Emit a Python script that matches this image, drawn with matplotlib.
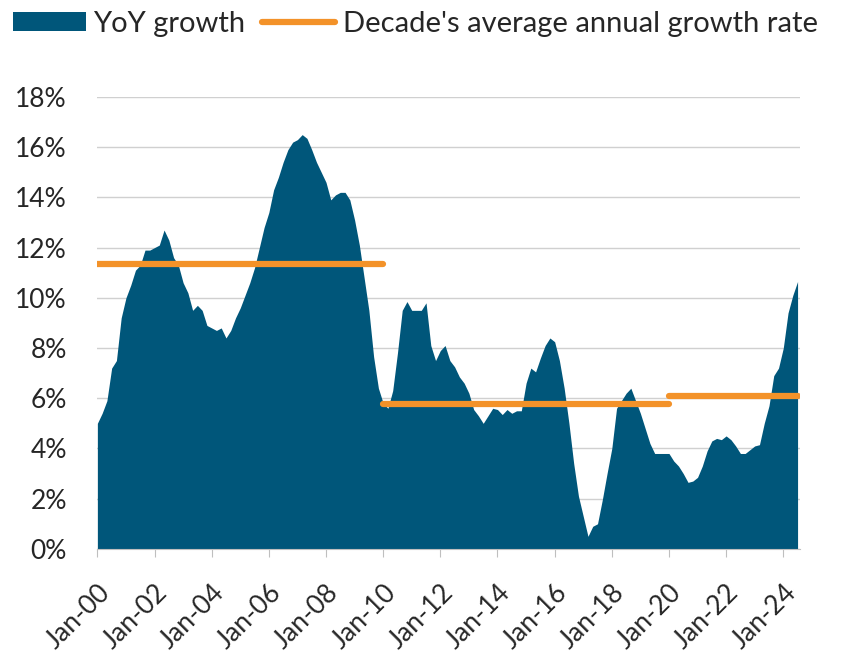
import numpy as np
import pandas as pd
import matplotlib
matplotlib.use("Agg")
import matplotlib.pyplot as plt
import matplotlib.transforms as mtransforms
from matplotlib.patches import Patch
from matplotlib.lines import Line2D

plt.rcParams['font.family'] = ['Lato', 'DejaVu Sans']

# YoY growth (%), one reading every two months, Jan-00 .. Jul-24
growth_2000s = [5.0, 5.4, 5.9, 7.2, 7.5, 9.2,
                10.0, 10.5, 11.1, 11.3, 11.9, 11.9,
                12.0, 12.1, 12.7, 12.3, 11.6, 11.3,
                10.6, 10.2, 9.5, 9.7, 9.5, 8.9,
                8.8, 8.7, 8.8, 8.4, 8.7, 9.2,
                9.6, 10.1, 10.6, 11.2, 12.0, 12.8,
                13.4, 14.3, 14.8, 15.4, 15.9, 16.2,
                16.3, 16.5, 16.35, 15.9, 15.4, 15.0,
                14.6, 13.9, 14.1, 14.2, 14.2, 13.9,
                13.1, 12.1, 10.8, 9.5, 7.65, 6.4]
growth_2010s = [5.8, 5.6, 6.3, 7.8, 9.5, 9.85,
                9.5, 9.5, 9.5, 9.8, 8.1, 7.5,
                7.9, 8.1, 7.5, 7.25, 6.85, 6.6,
                6.2, 5.55, 5.3, 5.0, 5.3, 5.6,
                5.55, 5.35, 5.55, 5.4, 5.5, 5.5,
                6.6, 7.2, 7.05, 7.6, 8.1, 8.4,
                8.25, 7.5, 6.4, 5.0, 3.4, 2.1,
                1.3, 0.5, 0.9, 1.0, 1.95, 3.0,
                4.0, 5.6, 5.9, 6.2, 6.4, 5.9,
                5.4, 4.8, 4.2, 3.8, 3.8, 3.8]
growth_2020s = [3.8, 3.5, 3.3, 3.0, 2.65, 2.7,
                2.85, 3.3, 3.9, 4.3, 4.4, 4.35,
                4.5, 4.35, 4.1, 3.8, 3.8, 3.95,
                4.1, 4.15, 5.0, 5.7, 6.9, 7.2,
                8.0, 9.4, 10.1, 10.65]
growth = growth_2000s + growth_2010s + growth_2020s
dates = pd.date_range('2000-01-01', '2024-07-01', freq='2MS')

# decade averages
avg_values = [11.33, 5.77, 6.07]
avg_start = ['2000-01-01', '2010-01-01', '2020-01-01']
avg_end = ['2010-01-01', '2020-01-01', '2024-07-01']

tick_years = list(range(2000, 2025, 2))
tick_labels = ['Jan-%02d' % (y % 100) for y in tick_years]


def dec_year(d):
    d = pd.Timestamp(d)
    return d.year + (d.month - 1) / 12


x = np.array([dec_year(d) for d in dates])

blue = '#00567A'
orange = '#F39229'
txt = '#262626'

fig = plt.figure(figsize=(8.43, 6.55), dpi=100)
ax = fig.add_axes([0.1155, 0.162, 0.834, 0.69])

ax.fill_between(x, growth, 0, color=blue, lw=0, zorder=2)
for v, s, e in zip(avg_values, avg_start, avg_end):
    ax.plot([dec_year(s), dec_year(e)], [v, v], color=orange, lw=4.5,
            solid_capstyle='round', zorder=3)

ax.set_ylim(0, 18)
ax.set_yticks(range(0, 19, 2))
ax.set_yticklabels(['%d%%' % v for v in range(0, 19, 2)], fontsize=19, color=txt)
ax.set_xlim(2000, 2024.6)
ax.set_xticks(tick_years)
ax.set_xticklabels(tick_labels, rotation=45, ha='right', rotation_mode='anchor',
                   fontsize=19, color=txt)
shift = mtransforms.ScaledTranslation(6 / 100, 0, fig.dpi_scale_trans)
for lab in ax.get_xticklabels():
    lab.set_transform(lab.get_transform() + shift)

ax.grid(axis='y', color='#d0d0d0', lw=1, zorder=0)
ax.set_axisbelow(True)
for side in ['top', 'right', 'left']:
    ax.spines[side].set_visible(False)
ax.spines['bottom'].set_color('#bfbfbf')
ax.tick_params(axis='y', length=0, pad=22)
ax.tick_params(axis='x', length=6, color='#bfbfbf', pad=16)

handles = [Patch(facecolor=blue, edgecolor='none'),
           Line2D([0], [0], color=orange, lw=4.5, solid_capstyle='round')]
fig.legend(handles, ['YoY growth', "Decade's average annual growth rate"],
           loc='upper left', bbox_to_anchor=(0.015, 0.983), ncol=2, frameon=False,
           fontsize=21, handlelength=2.5, handleheight=0.62, handletextpad=0.25,
           columnspacing=0.6, borderpad=0, borderaxespad=0, labelcolor=txt)

fig.savefig('out.png', dpi=100)
